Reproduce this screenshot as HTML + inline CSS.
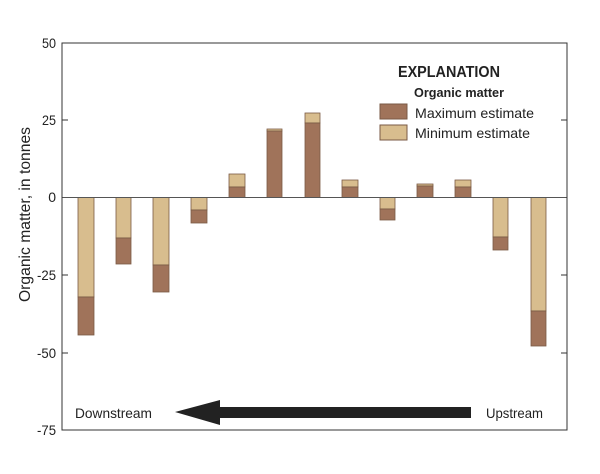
<!DOCTYPE html>
<html><head><meta charset="utf-8"><style>body{margin:0;background:#fff}</style></head><body>
<svg width="600" height="469" xmlns="http://www.w3.org/2000/svg" font-family="Liberation Sans, sans-serif">
<rect width="600" height="469" fill="#fff"/>
<g stroke="#7a5a45" stroke-width="0.8">
<rect x="78" y="197.5" width="16" height="99.5" fill="#d8bd8e"/><rect x="78" y="297" width="16" height="38" fill="#a0735a"/>
<rect x="116" y="197.5" width="15" height="40.5" fill="#d8bd8e"/><rect x="116" y="238" width="15" height="26" fill="#a0735a"/>
<rect x="153" y="197.5" width="16" height="67.5" fill="#d8bd8e"/><rect x="153" y="265" width="16" height="27" fill="#a0735a"/>
<rect x="191" y="197.5" width="16" height="12.5" fill="#d8bd8e"/><rect x="191" y="210" width="16" height="13" fill="#a0735a"/>
<rect x="229" y="174" width="16" height="13" fill="#d8bd8e"/><rect x="229" y="187" width="16" height="10.5" fill="#a0735a"/>
<rect x="267" y="129" width="15" height="2" fill="#d8bd8e"/><rect x="267" y="131" width="15" height="66.5" fill="#a0735a"/>
<rect x="305" y="113" width="15" height="10" fill="#d8bd8e"/><rect x="305" y="123" width="15" height="74.5" fill="#a0735a"/>
<rect x="342" y="180" width="16" height="7" fill="#d8bd8e"/><rect x="342" y="187" width="16" height="10.5" fill="#a0735a"/>
<rect x="380" y="197.5" width="15" height="11.5" fill="#d8bd8e"/><rect x="380" y="209" width="15" height="11" fill="#a0735a"/>
<rect x="417" y="184" width="16" height="2" fill="#d8bd8e"/><rect x="417" y="186" width="16" height="11.5" fill="#a0735a"/>
<rect x="455" y="180" width="16" height="7" fill="#d8bd8e"/><rect x="455" y="187" width="16" height="10.5" fill="#a0735a"/>
<rect x="493" y="197.5" width="15" height="39.5" fill="#d8bd8e"/><rect x="493" y="237" width="15" height="13" fill="#a0735a"/>
<rect x="531" y="197.5" width="15" height="113.5" fill="#d8bd8e"/><rect x="531" y="311" width="15" height="35" fill="#a0735a"/>
</g>
<line x1="62" y1="197.5" x2="567" y2="197.5" stroke="#555" stroke-width="1"/>
<rect x="62" y="43" width="505" height="387" fill="none" stroke="#333" stroke-width="1"/>
<g stroke="#333" stroke-width="1">
<line x1="62" y1="120" x2="68" y2="120"/><line x1="62" y1="275" x2="68" y2="275"/><line x1="62" y1="353" x2="68" y2="353"/>
<line x1="561" y1="120" x2="567" y2="120"/><line x1="561" y1="275" x2="567" y2="275"/><line x1="561" y1="353" x2="567" y2="353"/>
</g>
<g font-size="14" fill="#222" text-anchor="end">
<text x="56" y="48" textLength="14" lengthAdjust="spacingAndGlyphs">50</text><text x="56" y="125" textLength="14" lengthAdjust="spacingAndGlyphs">25</text><text x="56" y="202">0</text>
<text x="56" y="280" textLength="19" lengthAdjust="spacingAndGlyphs">-25</text><text x="56" y="358" textLength="19" lengthAdjust="spacingAndGlyphs">-50</text><text x="56" y="435" textLength="19" lengthAdjust="spacingAndGlyphs">-75</text>
</g>
<text transform="translate(30,302) rotate(-90)" font-size="16" fill="#222" textLength="175" lengthAdjust="spacingAndGlyphs">Organic matter, in tonnes</text>
<text x="75" y="418" font-size="14" fill="#222" textLength="77" lengthAdjust="spacingAndGlyphs">Downstream</text>
<text x="486" y="418" font-size="14" fill="#222" textLength="57" lengthAdjust="spacingAndGlyphs">Upstream</text>
<polygon points="175,412 220,400 220,407 471,407 471,418 220,418 220,425" fill="#222"/>
<text x="398" y="77" font-size="16" font-weight="bold" fill="#222" textLength="102" lengthAdjust="spacingAndGlyphs">EXPLANATION</text>
<text x="414" y="97" font-size="13" font-weight="bold" fill="#222" textLength="90" lengthAdjust="spacingAndGlyphs">Organic matter</text>
<rect x="380" y="104" width="27" height="15" fill="#a0735a" stroke="#7a5a45"/>
<rect x="380" y="125" width="27" height="15" fill="#d8bd8e" stroke="#7a5a45"/>
<text x="415" y="118" font-size="14" fill="#222" textLength="119" lengthAdjust="spacingAndGlyphs">Maximum estimate</text>
<text x="415" y="138" font-size="14" fill="#222" textLength="115" lengthAdjust="spacingAndGlyphs">Minimum estimate</text>
</svg>
</body></html>
